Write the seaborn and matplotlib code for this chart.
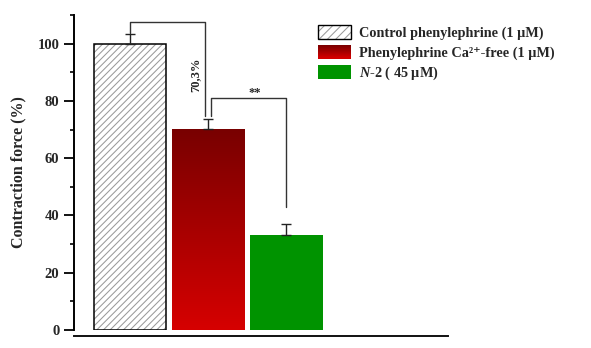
import numpy as np
import pandas as pd
import matplotlib
matplotlib.use("Agg")
import matplotlib.pyplot as plt
import seaborn as sns
from matplotlib.colors import LinearSegmentedColormap
from matplotlib.patches import Rectangle, Patch
from matplotlib.legend_handler import HandlerBase
from matplotlib.ticker import MultipleLocator

# ---- data ----
conditions = ["Control phenylephrine (1 µM)", "Phenylephrine Ca²⁺-free (1 µM)", "N-2 ( 45 µM)"]
values = [100.0, 70.3, 33.3]
errors = [3.2, 3.4, 3.6]
legend_labels = ["Control phenylephrine (1 µM)",
                 "Phenylephrine Ca²⁺-free (1 µM)",
                 r"$\mathit{N}$-$\mathit{2}$ ( $\mathit{45}$ µM)"]
pct_label = "70,3%"
sig_label = "**"
y_ticks = [0, 20, 40, 60, 80, 100]

sns.set_style("ticks")
plt.rcParams["font.family"] = ["Liberation Serif", "DejaVu Serif"]
plt.rcParams["font.weight"] = "bold"
plt.rcParams["mathtext.fontset"] = "custom"
plt.rcParams["mathtext.rm"] = "Liberation Serif:bold"
plt.rcParams["mathtext.it"] = "Liberation Serif:italic:bold"
plt.rcParams["hatch.linewidth"] = 0.75

HATCH_COL = "#9a9a9a"

df = pd.DataFrame({"cond": conditions, "value": values})
colors = ["white", "#a00000", "#009300"]

fig = plt.figure(figsize=(5.91, 3.48), dpi=100)
ax = fig.add_axes([74/591, 18/348, (448-74)/591, (330-15)/348])

sns.barplot(data=df, x="cond", y="value", hue="cond", palette=colors,
            width=0.92, legend=False, ax=ax, saturation=1)

patches = list(ax.patches)
p0 = patches[0]
p0.set_hatch("/////")
p0.set_edgecolor(HATCH_COL)
p0.set_linewidth(0)
for p in patches[1:]:
    p.set_edgecolor("none")
# black outline on top of the hatched bar
outline = Rectangle((p0.get_x(), p0.get_y()), p0.get_width(), p0.get_height(),
                    fill=False, edgecolor="black", linewidth=1.1,
                    zorder=p0.get_zorder() + 0.2)
ax.add_patch(outline)

# gradient fill of the red bar (dark at top, bright red at bottom)
red_cmap = LinearSegmentedColormap.from_list("redgrad", ["#780000", "#d60000"])
p = patches[1]
x0, y0 = p.get_x(), p.get_y()
w, h = p.get_width(), p.get_height()
grad = np.linspace(0, 1, 256).reshape(-1, 1)
im = ax.imshow(grad, extent=[x0, x0 + w, y0, y0 + h], origin="upper",
               cmap=red_cmap, aspect="auto", zorder=p.get_zorder() + 0.1)
im.set_clip_path(p)

# error bars (upper only)
xs = np.arange(len(values))
ax.errorbar(xs, values, yerr=[np.zeros(len(errors)), errors], fmt="none",
            ecolor="#222222", elinewidth=1.0, capsize=3.5, capthick=1.0, zorder=5)

# significance brackets
lc = "#333333"
ax.plot([0.01, 0.01, 0.965, 0.965], [103.6, 107.7, 107.7, 74.6], color=lc, lw=1.0,
        clip_on=False, zorder=6)
ax.plot([1.04, 1.04, 1.995, 1.995], [74.6, 81.0, 81.0, 42.8], color=lc, lw=1.0,
        clip_on=False, zorder=6)
ax.text(0.84, 89.0, pct_label, rotation=90, ha="center", va="center",
        fontsize=9, fontweight="bold")
ax.text(1.59, 80.8, sig_label, ha="center", va="bottom", fontsize=9,
        fontweight="bold")

ax.set_xlim(-0.71, 4.06)
ax.set_ylim(0, 110)
ax.set_yticks(y_ticks)
ax.yaxis.set_minor_locator(MultipleLocator(10))
ax.set_xticks([])
ax.set_xlabel("")
ax.set_ylabel("Contraction force (%)", fontsize=11.5, fontweight="bold", labelpad=8)
ax.tick_params(axis="y", which="major", length=7.5, width=1.3, labelsize=10.5, pad=3,
               color="black")
ax.tick_params(axis="y", which="minor", length=3, width=1.2, color="black")
for lab in ax.get_yticklabels():
    lab.set_fontweight("bold")

for s in ["top", "right"]:
    ax.spines[s].set_visible(False)
ax.spines["left"].set_linewidth(1.4)
ax.spines["left"].set_color("black")
ax.spines["bottom"].set_position(("outward", 4))
ax.spines["bottom"].set_linewidth(1.4)
ax.spines["bottom"].set_color("#111111")


class GradientHandler(HandlerBase):
    def __init__(self, cmap, n=12):
        super().__init__()
        self.cmap = cmap
        self.n = n

    def create_artists(self, legend, orig_handle, xdescent, ydescent, width,
                       height, fontsize, trans):
        arts = []
        hh = height / self.n
        for i in range(self.n):
            c = self.cmap(1 - (i + 0.5) / self.n)
            r = Rectangle((-xdescent, -ydescent + i * hh), width, hh * 1.05,
                          facecolor=c, edgecolor="none", transform=trans)
            arts.append(r)
        return arts


class HatchOutlineHandler(HandlerBase):
    def create_artists(self, legend, orig_handle, xdescent, ydescent, width,
                       height, fontsize, trans):
        r1 = Rectangle((-xdescent, -ydescent), width, height, facecolor="white",
                       edgecolor=HATCH_COL, hatch="////", linewidth=0,
                       transform=trans)
        r2 = Rectangle((-xdescent, -ydescent), width, height, fill=False,
                       edgecolor="black", linewidth=1.0, transform=trans)
        return [r1, r2]


h1 = Patch(facecolor="white", edgecolor="black")
h2 = Patch(facecolor="#a00000")
h3 = Patch(facecolor="#009300", edgecolor="none")
leg = fig.legend([h1, h2, h3], legend_labels, loc="upper left",
                 bbox_to_anchor=(318/591, (348-25)/348), frameon=False,
                 handlelength=2.3, handleheight=1.1,
                 handletextpad=0.55, labelspacing=0.35, borderpad=0,
                 borderaxespad=0,
                 handler_map={h1: HatchOutlineHandler(), h2: GradientHandler(red_cmap)},
                 prop={"weight": "bold", "size": 10.3})

fig.savefig("out.png", dpi=100)
